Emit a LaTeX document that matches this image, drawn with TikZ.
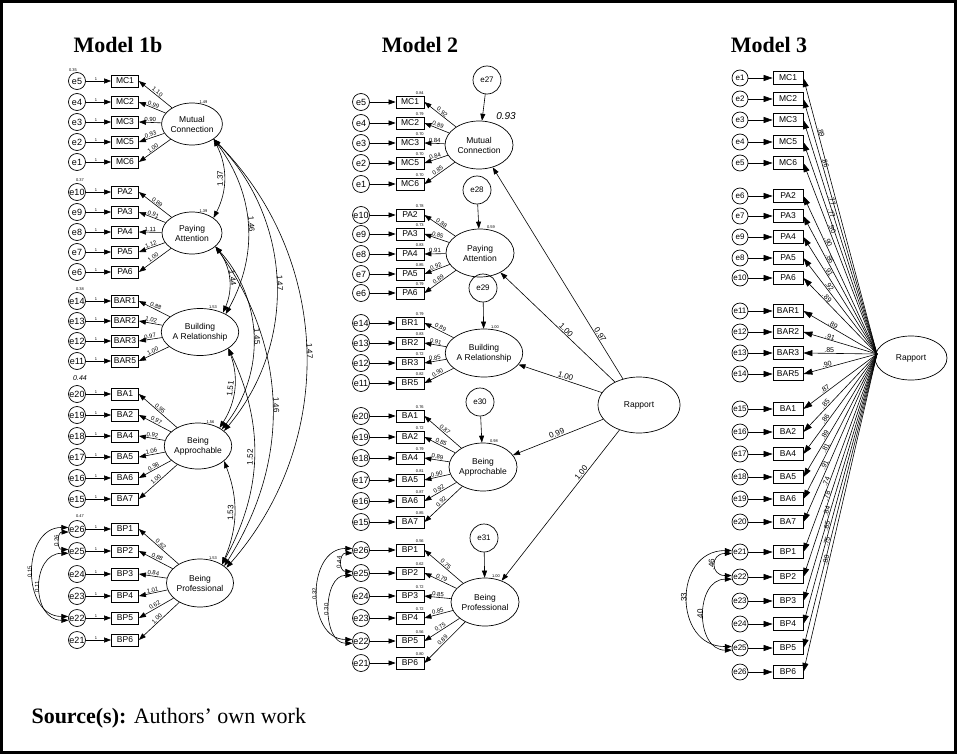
\documentclass[tikz,border=0pt]{standalone}
\usepackage{fontspec}
\setmainfont{Liberation Sans}
\newfontfamily\titlefont{Liberation Serif}
\usetikzlibrary{shapes.geometric,arrows.meta}

\begin{document}
\begin{tikzpicture}[
    x=1pt, y=-1pt,
    err/.style={circle, draw, line width=0.7pt, inner sep=0pt, minimum size=17pt,
        font=\fontsize{9}{9}\selectfont},
    dist/.style={err, minimum size=28pt, font=\fontsize{8}{8}\selectfont},
    ind/.style={rectangle, draw, line width=0.8pt, inner sep=0pt, minimum width=27pt,
        minimum height=12pt, font=\fontsize{8.5}{9}\selectfont},
    lat/.style={ellipse, draw, line width=0.7pt, inner sep=0pt, minimum width=60pt,
        minimum height=42pt, align=center, font=\fontsize{8.5}{10}\selectfont},
    ld/.style={-{Triangle[length=7pt,width=5pt]}, line width=0.6pt},
    cov/.style={{Triangle[length=7pt,width=5pt]}-{Triangle[length=7pt,width=5pt]}, line width=0.6pt},
    est/.style={font=\fontsize{6}{6}\selectfont, sloped, above, inner sep=0.8pt},
    estb/.style={est, font=\fontsize{8}{8}\selectfont},
    estc/.style={est, font=\fontsize{7}{7}\selectfont, inner sep=0.5pt},
    tiny/.style={font=\fontsize{4}{4}\selectfont, inner sep=0.5pt},
    title/.style={font=\titlefont\bfseries\fontsize{22}{24}\selectfont}
]
\useasboundingbox (0,0) rectangle (957,754);
\draw[line width=3pt] (1.5,1.5) rectangle (955.5,752.5);

% titles
\node[title] (t1) at (118,45) {Model 1b};
\node[title] (t2) at (420,45) {Model 2};
\node[title] (t3) at (769,45) {Model 3};

%%% Model 1b
\node[lat] (aMC) at (192,124) {Mutual\\Connection};
\node[lat] (aPA) at (192,233) {Paying\\Attention};
\node[lat, minimum width=67pt, minimum height=47pt] (aBAR) at (200,332) {Building\\A Relationship};
\node[lat, minimum width=67pt, minimum height=46pt] (aBA) at (198,446) {Being\\Approchable};
\node[lat, minimum width=67pt, minimum height=48pt] (aBP) at (200,583) {Being\\Professional};

\foreach \lat/\ind/\err/\y/\ldv in {
    MC/MC1/e5/81/1.10, MC/MC2/e4/102/0.99, MC/MC3/e3/122/0.90, MC/MC5/e2/142/0.93, MC/MC6/e1/162/1.00,
    PA/PA2/e10/192/0.89, PA/PA3/e9/212/0.91, PA/PA4/e8/232/1.11, PA/PA5/e7/252/1.12, PA/PA6/e6/272/1.00,
    BAR/BAR1/e14/301/0.88, BAR/BAR2/e13/321/1.02, BAR/BAR3/e12/341/0.97, BAR/BAR5/e11/361/1.00,
    BA/BA1/e20/394/0.95, BA/BA2/e19/415/0.97, BA/BA4/e18/436/0.92, BA/BA5/e17/457/1.06, BA/BA6/e16/478/0.98, BA/BA7/e15/499/1.00,
    BP/BP1/e26/529/0.62, BP/BP2/e25/551/0.88, BP/BP3/e24/574/0.84, BP/BP4/e23/596/1.01, BP/BP5/e22/618/0.62, BP/BP6/e21/640/1.00}{
  \node[err] (a\err) at (77,\y) {\err};
  \node[ind] (a\ind) at (125,\y) {\ind};
  \draw[ld] (a\err) -- (a\ind) node[tiny, pos=0.4, above] {1};
  \draw[ld] (a\lat) -- (a\ind.east) node[est, midway] {\ldv};
}

% variances
\node[tiny] (va1) at (73,70) {0.35};
\node[tiny] (va2) at (80,180) {0.37};
\node[tiny] (va3) at (80,289) {0.38};
\node[font=\fontsize{7}{7}\selectfont\itshape] (va4) at (80,378) {0.44};
\node[tiny] (va5) at (80,516) {0.47};
\node[tiny, anchor=south] (vl1) at (aMC.60) {1.49};
\node[tiny, anchor=south] (vl2) at (aPA.60) {1.39};
\node[tiny, anchor=south] (vl3) at (aBAR.60) {1.53};
\node[tiny, anchor=south] (vl4) at (aBA.60) {1.56};
\node[tiny, anchor=south] (vl5) at (aBP.60) {1.53};

% factor covariances
\draw[cov] (aMC.-35) to[bend left=27] node[estb]{1.37} (aPA.35);
\draw[cov] (aMC.-35) to[bend left=33] node[estb]{1.46} (aBAR.35);
\draw[cov] (aMC.-35) to[bend left=42] node[estb]{1.47} (aBA.30);
\draw[cov] (aMC.-35) to[bend left=43] node[estb]{1.47} (aBP.30);
\draw[cov] (aPA.-30) to[bend left=30] node[estb]{1.44} (aBAR.40);
\draw[cov] (aPA.-30) to[bend left=40] node[estb]{1.45} (aBA.35);
\draw[cov] (aPA.-30) to[bend left=34] node[estb]{1.46} (aBP.35);
\draw[cov] (aBAR.-30) to[bend left=26] node[estb]{1.51} (aBA.40);
\draw[cov] (aBAR.-30) to[bend left=27] node[estb]{1.52} (aBP.40);
\draw[cov] (aBA.-30) to[bend left=22] node[estb]{1.53} (aBP.40);

% error covariances
\draw[cov] (ae25.170) to[out=180,in=180,looseness=1.7] node[est]{0.26} (ae26.200);
\draw[cov] (ae22.170) to[out=180,in=180,looseness=1.35] node[est]{0.15} (ae26.170);
\draw[cov] (ae22.195) to[out=180,in=180,looseness=1.44] node[est]{0.11} (ae25.195);

%%% Model 2
\node[lat, minimum width=68pt, minimum height=48pt] (bMC) at (479,145) {Mutual\\Connection};
\node[lat, minimum width=68pt, minimum height=48pt] (bPA) at (480,253) {Paying\\Attention};
\node[lat, minimum width=68pt, minimum height=48pt] (bBR) at (484,353) {Building\\A Relationship};
\node[lat, minimum width=68pt, minimum height=48pt] (bBA) at (483,467) {Being\\Approchable};
\node[lat, minimum width=68pt, minimum height=48pt] (bBP) at (485,602) {Being\\Professional};
\node[lat, minimum width=82pt, minimum height=56pt] (bR) at (639,405) {Rapport};

\node[dist] (be27) at (487,80) {e27};
\node[dist] (be28) at (477,190) {e28};
\node[dist] (be29) at (483,288) {e29};
\node[dist] (be30) at (480,402) {e30};
\node[dist] (be31) at (484,538) {e31};
\draw[ld] (be27) -- (bMC);
\draw[ld] (be28) -- (bPA);
\draw[ld] (be29) -- (bBR);
\draw[ld] (be30) -- (bBA);
\draw[ld] (be31) -- (bBP);
\node[font=\fontsize{10}{10}\selectfont\itshape] (vb1) at (506,116) {0.93};
\node[tiny, anchor=south west] (vb2) at (bPA.75) {0.59};
\node[tiny, anchor=south west] (vb3) at (bBR.75) {1.00};
\node[tiny, anchor=south west] (vb4) at (bBA.75) {0.98};
\node[tiny, anchor=south west] (vb5) at (bBP.75) {1.00};

\foreach \lat/\ind/\err/\y/\ldv/\rsq in {
    MC/MC1/e5/102/0.92/0.84, MC/MC2/e4/123/0.89/0.79, MC/MC3/e3/143/0.84/0.70, MC/MC5/e2/163/0.84/0.70, MC/MC6/e1/184/0.85/0.70,
    PA/PA2/e10/215/0.88/0.78, PA/PA3/e9/234/0.85/0.73, PA/PA4/e8/254/0.91/0.83, PA/PA5/e7/274/0.92/0.85, PA/PA6/e6/293/0.89/0.79,
    BR/BR1/e14/323/0.89/0.79, BR/BR2/e13/343/0.91/0.83, BR/BR3/e12/363/0.85/0.72, BR/BR5/e11/383/0.90/0.82,
    BA/BA1/e20/416/0.87/0.76, BA/BA2/e19/437/0.85/0.72, BA/BA4/e18/458/0.89/0.79, BA/BA5/e17/480/0.90/0.81, BA/BA6/e16/501/0.92/0.87, BA/BA7/e15/522/0.92/0.85,
    BP/BP1/e26/550/0.75/0.56, BP/BP2/e25/573/0.79/0.62, BP/BP3/e24/596/0.85/0.72, BP/BP4/e23/618/0.85/0.72, BP/BP5/e22/641/0.75/0.56, BP/BP6/e21/663/0.89/0.80}{
  \node[err] (b\err) at (361,\y) {\err};
  \node[ind, minimum width=28pt] (b\ind) at (410,\y) {\ind};
  \node[tiny, anchor=south east] at (b\ind.north east) {\rsq};
  \draw[ld] (b\err) -- (b\ind);
  \draw[ld] (b\lat) -- (b\ind.east) node[est, midway] {\ldv};
}

\draw[ld] (bR) -- (bMC) node[estb, pos=0.2] {0.97};
\draw[ld] (bR) -- (bPA) node[estb, pos=0.45] {1.00};
\draw[ld] (bR) -- (bBR) node[estb, pos=0.45] {1.00};
\draw[ld] (bR) -- (bBA) node[estb, pos=0.5] {0.99};
\draw[ld] (bR) -- (bBP) node[estb, pos=0.3] {1.00};

\draw[cov] (be25.170) to[out=180,in=180,looseness=1.9] node[est]{0.44} (be26.200);
\draw[cov] (be22.170) to[out=180,in=180,looseness=1.3] node[est]{0.32} (be26.170);
\draw[cov] (be22.195) to[out=180,in=180,looseness=1.15] node[est]{0.30} (be25.195);

%%% Model 3
\node[lat, minimum width=72pt, minimum height=44pt] (cR) at (911,358) {Rapport};
\coordinate (cRw) at (877,354);

\foreach \ind/\err/\y/\ldv/\p in {
    MC1/e1/78/.89/0.80, MC2/e2/99/.86/0.745, MC3/e3/120/.77/0.65, MC5/e4/142/.77/0.66, MC6/e5/163/.90/0.65,
    PA2/e6/196/.90/0.70, PA3/e7/216/.86/0.68, PA4/e9/237/.91/0.69, PA5/e8/258/.92/0.68, PA6/e10/278/.89/0.71,
    BAR1/e11/311/.89/0.62, BAR2/e12/332/.91/0.65, BAR3/e13/353/.85/0.65, BAR5/e14/374/.90/0.67,
    BA1/e15/409/.87/0.68, BA2/e16/432/.85/0.67, BA4/e17/454/.86/0.67, BA5/e18/477/.89/0.67, BA6/e19/499/.81/0.66, BA7/e20/522/.91/0.67,
    BP1/e21/552/.74/0.65, BP2/e22/577/.78/0.64, BP3/e23/601/.84/0.64, BP4/e24/624/.85/0.64, BP5/e25/648/.75/0.64, BP6/e26/672/.80/0.65}{
  \node[err, minimum size=16pt, font=\fontsize{8}{8}\selectfont] (c\err) at (740,\y) {\err};
  \node[ind, minimum width=30pt, minimum height=13pt] (c\ind) at (788,\y) {\ind};
  \draw[ld, -{Triangle[length=9pt,width=6pt]}] (c\err) -- (c\ind);
  \draw[ld, -{Triangle[length=9pt,width=6pt]}] (cRw) -- (c\ind.east) node[estc, pos=\p] {\ldv};
}

\draw[cov] (ce22.170) to[out=180,in=180,looseness=2.5] node[estb]{.46} (ce21.190);
\draw[cov] (ce25.170) to[out=180,in=180,looseness=1.57] node[estb]{.33} (ce21.170);
\draw[cov] (ce25.195) to[out=180,in=180,looseness=1.34] node[estb]{.40} (ce22.195);

% source
\node[anchor=west, font=\titlefont\fontsize{22}{24}\selectfont] (src) at (28,718)
    {\textbf{Source(s):} Authors’ own work};
\end{tikzpicture}
\end{document}
